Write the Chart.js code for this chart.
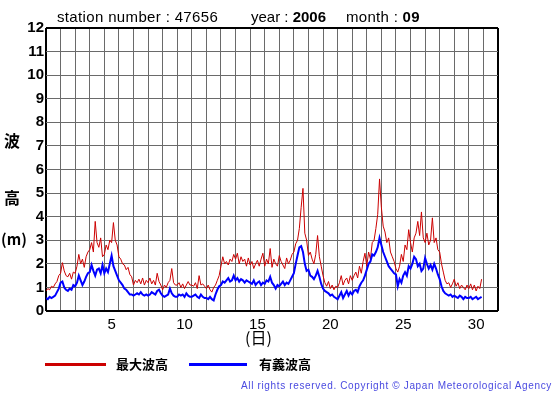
<!DOCTYPE html>
<html>
<head>
<meta charset="utf-8">
<script src="https://cdn.jsdelivr.net/npm/chart.js@4/dist/chart.umd.min.js"></script>
<style>
  body { margin: 0; background: #fff; }
  #wrap { position: relative; width: 555px; height: 395px; }
  .t { position: absolute; white-space: nowrap; color: #000; font-family: "Liberation Sans", Arial, sans-serif; }
  .jp { font-family: "Noto Sans CJK JP", sans-serif; font-weight: bold; }
</style>
</head>
<body>
<div id="wrap">
  <canvas id="chart" width="555" height="395"></canvas>
  <div class="t" style="left:57px;top:9px;font-size:15px;line-height:15px;letter-spacing:0.35px;">station number : 47656</div>
  <div class="t" style="left:251px;top:9px;font-size:15px;line-height:15px;">year : <b>2006</b></div>
  <div class="t" style="left:346px;top:9px;font-size:15px;line-height:15px;letter-spacing:0.3px;">month : <b>09</b></div>
  <div class="t jp" style="left:4px;top:131px;font-size:16px;line-height:18px;">波</div>
  <div class="t jp" style="left:4px;top:188px;font-size:16px;line-height:18px;">高</div>
  <div class="t jp" style="left:1px;top:230px;font-size:15px;line-height:18px;">(m)</div>
  <div class="t jp" style="left:245px;top:328px;font-size:16px;line-height:18px;font-weight:normal;">(日)</div>
  <div style="position:absolute;left:45px;top:363px;width:61px;height:3px;background:#cc0000;"></div>
  <div class="t jp" style="left:116px;top:355px;font-size:13px;line-height:18px;">最大波高</div>
  <div style="position:absolute;left:189px;top:363px;width:58px;height:3px;background:#0000ff;"></div>
  <div class="t jp" style="left:259px;top:355px;font-size:13px;line-height:18px;">有義波高</div>
  <div class="t" style="left:241px;top:380px;font-size:10px;line-height:12px;letter-spacing:0.65px;color:#4a4ae0;">All rights reserved. Copyright &copy; Japan Meteorological Agency</div>
</div>
<script>
// 3-hourly readings, 8 per day, Sept 1 - Sept 30
const maxWave = [
  0.85, 0.95, 0.9, 1.05, 1.0, 1.15, 1.25, 1.5,
  1.6, 2.05, 1.7, 1.5, 1.45, 1.6, 1.35, 1.65,
  1.6, 1.9, 2.4, 2.0, 2.2, 1.85, 2.3, 2.5,
  2.6, 2.9, 2.5, 3.8, 2.9, 2.7, 3.1, 2.3,
  2.4, 2.8, 2.6, 3.0, 2.9, 3.75, 3.0, 2.8,
  2.3, 2.2, 2.0, 1.95, 1.75, 1.85, 1.55, 1.45,
  1.1, 1.3, 1.2, 1.35, 1.15, 1.4, 1.1, 1.3,
  1.2, 1.4, 1.15, 1.3, 1.1, 1.6, 1.25, 1.1,
  0.9, 1.1, 1.0, 1.2, 1.3, 1.8, 1.2, 1.1,
  1.1, 1.2, 1.0, 1.15, 0.95, 1.1, 1.25, 1.1,
  1.1, 1.05, 1.2, 0.95, 1.5, 1.1, 1.15, 1.05,
  0.95, 1.1, 0.9, 0.8, 1.0, 1.1, 1.3, 1.5,
  1.9, 2.3, 2.0, 2.1, 1.95, 2.2, 2.1, 2.4,
  2.2, 2.45, 2.0, 2.3, 2.1, 2.2, 1.9, 2.25,
  1.95, 2.1, 1.8, 2.0, 2.15, 1.9, 2.2, 2.45,
  1.9, 2.2, 2.0, 2.65, 1.85, 2.2, 2.0, 1.9,
  2.35, 2.1, 1.95, 1.8, 2.25, 2.0, 2.15, 2.4,
  2.5, 2.85, 3.0, 3.5, 4.4, 5.2, 3.3, 3.0,
  2.35, 2.5, 2.2, 2.0, 2.4, 3.2, 2.3, 1.9,
  1.5, 1.2, 1.05, 1.25, 0.95, 1.1, 0.9, 1.05,
  1.0, 1.2, 1.5, 1.1, 1.3, 1.4, 1.15, 1.5,
  1.3, 1.5, 1.65, 1.4, 1.9, 1.6, 2.1, 2.45,
  1.9, 2.5, 2.2, 2.9, 3.0, 3.5, 4.1, 5.6,
  4.4, 3.6, 3.35, 2.9, 3.1, 2.5, 2.3, 2.1,
  1.8, 1.65, 1.9, 2.4, 2.1, 2.8, 2.6, 3.45,
  2.9, 2.5, 3.1, 3.3, 3.8, 3.2, 4.2, 3.1,
  2.9, 3.3, 2.8, 3.0, 3.95, 2.9, 3.1, 2.6,
  2.5, 2.0, 1.65, 1.3, 1.15, 1.2, 1.0, 1.15,
  1.35, 1.05, 1.2, 0.95, 1.1, 1.0, 0.9, 1.1,
  0.95, 1.15, 0.9, 1.1, 0.85, 1.05, 0.95, 1.35
];
const sigWave = [
  0.55, 0.5, 0.6, 0.55, 0.6, 0.65, 0.8, 0.95,
  1.2, 1.25, 1.0, 0.9, 0.85, 0.95, 0.9, 1.1,
  1.05, 1.2, 1.5, 1.3, 1.1, 1.25, 1.45, 1.6,
  1.65, 1.95, 1.7, 1.5, 1.75, 1.8, 1.6, 1.95,
  1.6, 1.8, 1.65, 2.0, 2.35, 1.9, 1.7, 1.5,
  1.3, 1.2, 1.1, 0.95, 0.9, 0.8, 0.7, 0.7,
  0.65, 0.7, 0.75, 0.7, 0.8, 0.7, 0.65, 0.7,
  0.65, 0.7, 0.8, 0.75, 0.7, 0.85, 0.9, 0.75,
  0.65, 0.6, 0.65, 0.7, 0.95, 0.75, 0.65, 0.6,
  0.6, 0.7, 0.65, 0.7, 0.6, 0.75, 0.65, 0.6,
  0.6, 0.65, 0.7, 0.6, 0.55, 0.7, 0.6, 0.55,
  0.55, 0.5, 0.6, 0.5, 0.45, 0.7, 0.9, 1.05,
  1.1, 1.25, 1.2, 1.3, 1.4, 1.25, 1.3, 1.5,
  1.3, 1.4, 1.25, 1.35, 1.3, 1.2, 1.3, 1.25,
  1.2, 1.15, 1.3, 1.1, 1.2, 1.25, 1.1, 1.2,
  1.15, 1.3, 1.25, 1.45, 1.2, 1.1, 0.95, 1.1,
  1.05, 1.15, 1.25, 1.1, 1.2, 1.15, 1.3, 1.45,
  1.6, 2.0, 2.35, 2.7, 2.75, 2.5, 2.0, 1.7,
  1.75, 1.5, 1.45, 1.35, 1.5, 1.7, 1.45, 1.15,
  0.95, 0.85, 0.8, 0.75, 0.65, 0.7, 0.6, 0.55,
  0.5, 0.65, 0.8, 0.55, 0.7, 0.85, 0.65, 0.8,
  0.7, 0.85, 0.9, 0.8, 1.05, 1.2, 1.3, 1.5,
  1.75, 2.0, 2.1, 2.4, 2.35, 2.5, 2.7, 3.1,
  2.8, 2.5, 2.3, 2.1, 1.9, 1.8, 1.7, 1.6,
  1.55, 1.05, 1.35, 1.2, 1.5, 1.65, 1.5, 1.9,
  1.8, 2.0, 2.3, 2.2, 1.9, 2.0, 1.7, 1.8,
  2.25, 2.0, 1.8, 1.95, 1.75, 2.0, 1.8, 1.55,
  1.35, 1.05, 0.85, 0.75, 0.7, 0.65, 0.7, 0.6,
  0.65, 0.6, 0.55, 0.65, 0.6, 0.5, 0.6, 0.55,
  0.55, 0.6, 0.5, 0.55, 0.6, 0.5, 0.55, 0.6
];
const dayLabels = [5, 10, 15, 20, 25, 30];
const hoursPerStep = 3;

function toPoints(arr) {
  return arr.map((v, i) => ({ x: (i * hoursPerStep) / 24, y: v }));
}

const gridGray = "#6a6a6a";

new Chart(document.getElementById("chart"), {
  type: "line",
  data: {
    datasets: [
      {
        label: "有義波高",
        data: toPoints(sigWave),
        borderColor: "#0000ff",
        borderWidth: 2,
        pointRadius: 0,
        tension: 0,
        order: 0,
      },
      {
        label: "最大波高",
        data: toPoints(maxWave),
        borderColor: "#cc0000",
        borderWidth: 1,
        pointRadius: 0,
        tension: 0,
        order: 1,
      },
    ],
  },
  options: {
    responsive: false,
    animation: false,
    layout: { padding: { left: 0, right: 57, top: 28, bottom: 0 } },
    plugins: { legend: { display: false }, tooltip: { enabled: false } },
    scales: {
      x: {
        type: "linear",
        min: 0,
        max: 31,
        afterFit: (s) => { s.height = 84; },
        border: { display: false },
        grid: {
          drawTicks: false,
          color: (c) => (c.tick && (c.tick.value === 0 || c.tick.value === 31) ? "#000" : gridGray),
          lineWidth: (c) => (c.tick && (c.tick.value === 0 || c.tick.value === 31) ? 2 : 1),
        },
        ticks: {
          stepSize: 1,
          autoSkip: false,
          maxRotation: 0,
          labelOffset: 7.3,
          padding: 5,
          color: "#000",
          font: { family: "Liberation Sans", size: 15 },
          callback: (v) => (dayLabels.includes(v + 1) ? String(v + 1) : ""),
        },
      },
      y: {
        min: 0,
        max: 12,
        afterFit: (s) => { s.width = 46; },
        border: { display: false },
        grid: {
          drawTicks: false,
          color: (c) => (c.tick && (c.tick.value === 0 || c.tick.value === 12) ? "#000" : gridGray),
          lineWidth: (c) => (c.tick && (c.tick.value === 0 || c.tick.value === 12) ? 2 : 1),
        },
        ticks: {
          stepSize: 1,
          padding: 2,
          color: "#000",
          font: { family: "Liberation Sans", size: 15, weight: "bold" },
        },
      },
    },
  },
});
</script>
</body>
</html>
